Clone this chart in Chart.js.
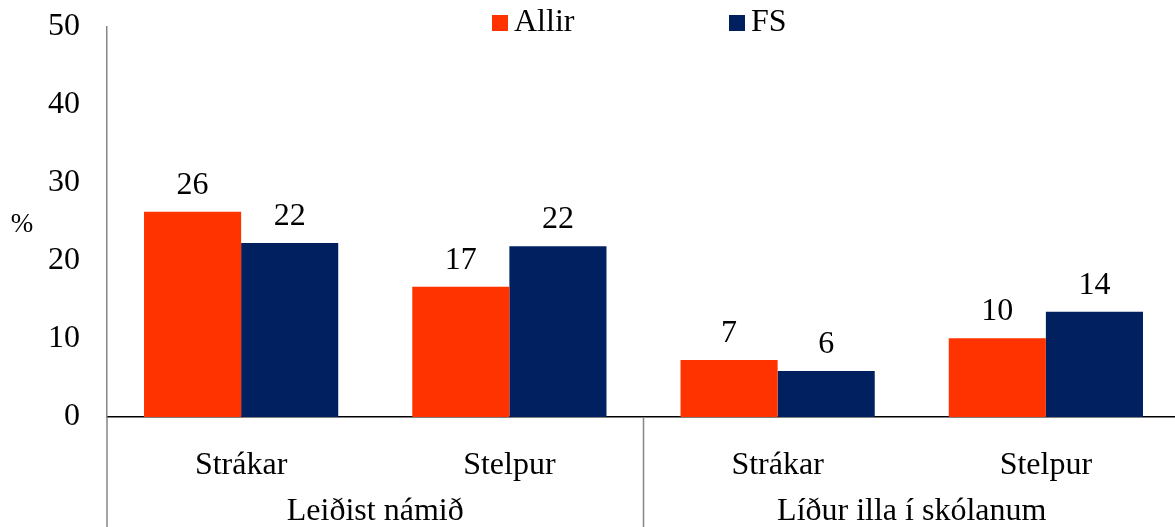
<!DOCTYPE html>
<html>
<head>
<meta charset="utf-8">
<script src="https://cdn.jsdelivr.net/npm/chart.js@4/dist/chart.umd.min.js"></script>
<style>
  html, body { margin: 0; padding: 0; background: #fff; overflow: hidden; }
  #wrap { width: 1175px; height: 527px; position: relative; overflow: hidden; }
  canvas { display: block; }
</style>
</head>
<body>
<div id="wrap"><canvas id="c" width="1180" height="527"></canvas></div>
<script>
const categories = ['Strákar', 'Stelpur', 'Strákar', 'Stelpur'];
const groups = ['Leiðist námið', 'Líður illa í skólanum'];
const seriesNames = ['Allir', 'FS'];
const allirValues = [26.3, 16.7, 7.3, 10.1];
const fsValues = [22.3, 21.9, 5.9, 13.5];
const yTicks = [0, 10, 20, 30, 40, 50];
const yUnit = '%';

const FONT = '"Liberation Serif", "Times New Roman", serif';
const FS_TXT = 32;
const ORANGE = '#FF3300';
const NAVY = '#002060';

const extrasPlugin = {
  id: 'extras',
  afterDraw(chart) {
    const ctx = chart.ctx;
    const area = chart.chartArea;
    const xs = chart.scales.x;
    const H = chart.height;
    ctx.save();
    ctx.strokeStyle = '#868686';
    ctx.lineWidth = 1.5;
    ctx.beginPath();
    ctx.moveTo(area.left, area.bottom);
    ctx.lineTo(area.left, H);
    const sep = (xs.getPixelForValue(1) + xs.getPixelForValue(2)) / 2;
    ctx.moveTo(sep, area.bottom);
    ctx.lineTo(sep, H);
    ctx.stroke();
    ctx.fillStyle = '#000';
    ctx.font = FS_TXT + 'px ' + FONT;
    ctx.textAlign = 'center';
    ctx.textBaseline = 'middle';
    const g1 = (xs.getPixelForValue(0) + xs.getPixelForValue(1)) / 2;
    const g2 = (xs.getPixelForValue(2) + xs.getPixelForValue(3)) / 2;
    ctx.fillText(groups[0], g1, 512);
    ctx.fillText(groups[1], g2, 512);
    ctx.font = '27px ' + FONT;
    ctx.fillText(yUnit, 22, 225);
    const items = [[seriesNames[0], ORANGE, 492], [seriesNames[1], NAVY, 729]];
    ctx.font = FS_TXT + 'px ' + FONT;
    ctx.textAlign = 'left';
    for (const [name, col, x] of items) {
      ctx.fillStyle = col;
      ctx.fillRect(x, 15, 16, 16);
      ctx.fillStyle = '#000';
      ctx.fillText(name, x + 22, 23);
    }
    ctx.restore();
  },
  afterDatasetsDraw(chart) {
    const ctx = chart.ctx;
    ctx.save();
    ctx.fillStyle = '#000';
    ctx.font = FS_TXT + 'px ' + FONT;
    ctx.textAlign = 'center';
    ctx.textBaseline = 'alphabetic';
    chart.data.datasets.forEach((ds, i) => {
      const meta = chart.getDatasetMeta(i);
      meta.data.forEach((bar, j) => {
        ctx.fillText(String(Math.round(ds.data[j])), bar.x, bar.y - 18);
      });
    });
    ctx.restore();
  }
};

new Chart(document.getElementById('c'), {
  type: 'bar',
  data: {
    labels: categories,
    datasets: [
      { label: seriesNames[0], data: allirValues, backgroundColor: ORANGE },
      { label: seriesNames[1], data: fsValues, backgroundColor: NAVY }
    ]
  },
  options: {
    responsive: false,
    animation: false,
    layout: { padding: { top: 27, right: 0, left: 0, bottom: 0 } },
    plugins: { legend: { display: false }, tooltip: { enabled: false } },
    datasets: { bar: { categoryPercentage: 0.724, barPercentage: 1.0 } },
    scales: {
      x: {
        grid: { display: false },
        border: { display: true, color: '#000', width: 1.5 },
        ticks: { color: '#000', font: { family: FONT, size: FS_TXT }, padding: 21, maxRotation: 0 },
        afterFit(scale) { scale.height = 110; scale.paddingLeft = 0; scale.paddingRight = 0; }
      },
      y: {
        min: 0, max: 50,
        afterBuildTicks(scale) { scale.ticks = yTicks.map(v => ({ value: v })); },
        grid: { display: false },
        border: { display: true, color: '#868686', width: 1.5 },
        ticks: { color: '#000', font: { family: FONT, size: FS_TXT }, padding: 19 },
        afterFit(scale) { scale.width = 107; scale.paddingTop = 0; scale.paddingBottom = 0; }
      }
    }
  },
  plugins: [extrasPlugin]
});
</script>
</body>
</html>
